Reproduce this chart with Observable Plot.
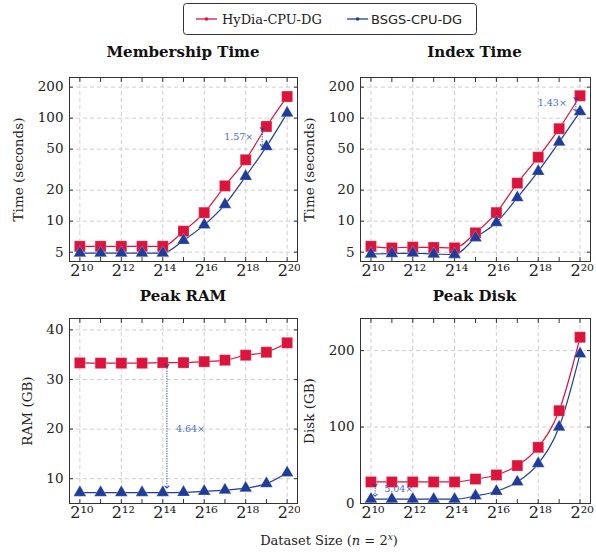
<!DOCTYPE html>
<html>
<head>
<meta charset="utf-8">
<script src="https://cdn.jsdelivr.net/npm/d3@7"></script>
<script src="https://cdn.jsdelivr.net/npm/@observablehq/plot@0.6"></script>
<style>
  html, body { margin: 0; padding: 0; background: #fff; }
  #wrap { position: relative; width: 596px; height: 552px; overflow: hidden; font-family: "DejaVu Serif", serif; }
  .panel { position: absolute; }
  #overlay { position: absolute; left: 0; top: 0; }
</style>
</head>
<body>
<div id="wrap"></div>
<script>
// ---------- data ----------
const exponents = [10, 11, 12, 13, 14, 15, 16, 17, 18, 19, 20];
const labelExponents = [10, 12, 14, 16, 18, 20];
const seriesNames = ["HyDia-CPU-DG", "BSGS-CPU-DG"];

const memHyDia = [5.7, 5.7, 5.7, 5.7, 5.7, 8.0, 12.1, 22, 39.4, 83, 162];
const memBSGS  = [4.9, 4.9, 4.9, 4.9, 4.9, 6.5, 9.2, 14.5, 27.2, 53, 112];
const idxHyDia = [5.7, 5.5, 5.6, 5.55, 5.5, 7.7, 12.1, 23.4, 41.8, 79, 165];
const idxBSGS  = [4.8, 4.85, 4.9, 4.8, 4.75, 6.9, 9.7, 16.9, 30.4, 58.5, 115.5];
const ramHyDia = [33.35, 33.3, 33.3, 33.3, 33.4, 33.4, 33.6, 33.9, 34.9, 35.5, 37.4];
const ramBSGS  = [7.2, 7.2, 7.2, 7.2, 7.2, 7.25, 7.45, 7.7, 8.1, 9.0, 11.2];
const diskHyDia = [28.2, 28.2, 28.2, 28.2, 28.2, 32, 37.3, 49.6, 73.5, 121.4, 217.5];
const diskBSGS  = [5.6, 5.6, 5.6, 5.6, 5.6, 9.9, 16, 28.2, 52.2, 100, 195.8];

const titles = ["Membership Time", "Index Time", "Peak RAM", "Peak Disk"];
const yLabels = ["Time (seconds)", "Time (seconds)", "RAM (GB)", "Disk (GB)"];
const timeTicks = [5, 10, 20, 50, 100, 200];
const ramTicks = [10, 20, 30, 40];
const diskTicks = [0, 100, 200];

// speed-up annotations (exponent, top value, bottom value, label, label value)
const annX = [18.8, 19.8, 14.2, 10.2];
const annTop = [79, 155, 32.8, 23.9];
const annBottom = [54, 119, 8.3, 10.8];
const annText = ["1.57×", "1.43×", "4.64×", "5.04×"];
const annTextY = [66, 139, 20, 18.7];
const annSide = ["left", "left", "right", "right"];

// ---------- style ----------
const RED = "#dc143c";
const BLUE = "#1f3c9a";
const ANN = "#4a6bd0";
const GRID = "#cfcfcf";
const SUP = {"0": "\u2070", "1": "\u00b9", "2": "\u00b2", "3": "\u00b3", "4": "\u2074", "5": "\u2075", "6": "\u2076", "7": "\u2077", "8": "\u2078", "9": "\u2079"};
const powLabel = e => "2" + String(e).split("").map(c => SUP[c]).join("");

function rowsOf(values) { return exponents.map((e, i) => ({e, v: values[i]})); }

function panel(k, hy, bs, yScale, yTicks, box) {
  const H = rowsOf(hy), B = rowsOf(bs);
  const side = annSide[k];
  const chart = Plot.plot({
    width: box.width, height: box.height,
    marginLeft: box.ml, marginRight: box.mr, marginTop: box.mt, marginBottom: box.mb,
    style: {fontFamily: "DejaVu Serif, serif", fontSize: "13px", color: "#222", background: "transparent"},
    x: {domain: [9.5, 20.5], axis: null},
    y: {...yScale, axis: null},
    marks: [
      Plot.ruleX(labelExponents, {x: d => d, stroke: GRID, strokeDasharray: "4,3"}),
      Plot.ruleY(yTicks, {y: d => d, stroke: GRID, strokeDasharray: "4,3"}),
      Plot.axisX(exponents, {anchor: "bottom", tickSize: -4, tickFormat: () => "", stroke: "#333", label: null}),
      Plot.axisX(exponents, {anchor: "top", tickSize: -4, tickFormat: () => "", stroke: "#333", label: null}),
      Plot.axisY(yTicks, {anchor: "left", tickSize: -4, tickFormat: () => "", stroke: "#333",
        label: yLabels[k], labelAnchor: "center", labelArrow: "none", labelOffset: box.lo, fontSize: 13.5}),
      Plot.axisY(yTicks, {anchor: "right", tickSize: -4, tickFormat: () => "", stroke: "#333", label: null}),
      Plot.text(yTicks, {y: d => d, text: d => String(d), frameAnchor: "left", textAnchor: "end", dx: -6, fontSize: 13.5, fill: "#222"}),
      Plot.text(labelExponents, {x: d => d, text: d => powLabel(d), frameAnchor: "bottom", lineAnchor: "top", dy: 3, dx: 2, fontSize: 16, fill: "#222"}),
      Plot.line(H, {x: "e", y: "v", stroke: RED, strokeWidth: 1.2, curve: "monotone-x"}),
      Plot.line(B, {x: "e", y: "v", stroke: BLUE, strokeWidth: 1.2, curve: "monotone-x"}),
      Plot.dot(H, {x: "e", y: "v", symbol: "square", r: 6.2, fill: RED, stroke: "#fff", strokeWidth: 0.4, strokeOpacity: 0.6}),
      Plot.dot(B, {x: "e", y: "v", symbol: "triangle", r: 4.7, fill: BLUE, stroke: "#fff", strokeWidth: 0.4, strokeOpacity: 0.6}),
      Plot.link([k], {x1: i => annX[i], x2: i => annX[i], y1: i => annTop[i], y2: i => annBottom[i],
        stroke: BLUE, strokeWidth: 1, strokeDasharray: "1.2,1.3", markerStart: "arrow", markerEnd: "arrow"}),
      Plot.text([k], {x: i => annX[i], y: i => annTextY[i], text: i => annText[i], fill: ANN, fontSize: 9.5,
        textAnchor: side === "left" ? "end" : "start", dx: side === "left" ? -9 : 9}),
      Plot.frame({stroke: "#333", strokeWidth: 1})
    ]
  });
  chart.classList.add("panel");
  chart.style.left = box.left + "px";
  chart.style.top = box.top + "px";
  return chart;
}

const wrap = document.getElementById("wrap");
const boxes = [
  {left: 0,   top: 60,  width: 300, height: 232, ml: 69, mr: 3, mt: 17, mb: 31, lo: 56},
  {left: 300, top: 60,  width: 296, height: 232, ml: 60, mr: 6, mt: 17, mb: 31, lo: 56},
  {left: 0,   top: 300, width: 300, height: 230, ml: 69, mr: 3, mt: 18, mb: 27, lo: 47},
  {left: 300, top: 300, width: 296, height: 230, ml: 60, mr: 6, mt: 18, mb: 27, lo: 56}
];
wrap.appendChild(panel(0, memHyDia, memBSGS, {type: "log", domain: [4.06, 248]}, timeTicks, boxes[0]));
wrap.appendChild(panel(1, idxHyDia, idxBSGS, {type: "log", domain: [4.06, 248]}, timeTicks, boxes[1]));
wrap.appendChild(panel(2, ramHyDia, ramBSGS, {type: "linear", domain: [5, 42.3]}, ramTicks, boxes[2]));
wrap.appendChild(panel(3, diskHyDia, diskBSGS, {type: "linear", domain: [0, 242]}, diskTicks, boxes[3]));

// ---------- titles, legend, x label ----------
const ov = d3.select(wrap).append("svg").attr("id", "overlay").attr("width", 596).attr("height", 552);
const titlePos = [[183, 57], [474.5, 57], [183, 301], [474.5, 301]];
titles.forEach((t, i) => {
  ov.append("text").attr("x", titlePos[i][0]).attr("y", titlePos[i][1]).attr("text-anchor", "middle")
    .attr("font-family", "DejaVu Serif, serif").attr("font-weight", "bold").attr("font-size", 15).attr("fill", "#111").text(t);
});
ov.append("rect").attr("x", 183.5).attr("y", 3.5).attr("width", 293).attr("height", 31).attr("rx", 3)
  .attr("fill", "#fff").attr("stroke", "#333").attr("stroke-width", 1);
const legendItems = [
  {name: seriesNames[0], color: RED, x0: 196, tx: 222, font: "DejaVu Serif, serif"},
  {name: seriesNames[1], color: BLUE, x0: 347, tx: 371, font: "DejaVu Sans, sans-serif"}
];
legendItems.forEach(it => {
  ov.append("line").attr("x1", it.x0).attr("x2", it.x0 + 21).attr("y1", 19).attr("y2", 19).attr("stroke", it.color).attr("stroke-width", 1.3);
  ov.append("circle").attr("cx", it.x0 + 10.5).attr("cy", 19).attr("r", 1.8).attr("fill", it.color);
  ov.append("text").attr("x", it.tx).attr("y", 23.5).attr("font-family", it.font).attr("font-size", 13).attr("fill", "#222").text(it.name);
});
const xl = ov.append("text").attr("x", 329).attr("y", 545).attr("text-anchor", "middle")
  .attr("font-family", "DejaVu Serif, serif").attr("font-size", 13).attr("fill", "#222");
xl.append("tspan").text("Dataset Size (");
xl.append("tspan").attr("font-style", "italic").text("n");
xl.append("tspan").text(" = 2");
xl.append("tspan").attr("font-style", "italic").attr("font-size", 9).attr("dy", -5).text("x");
xl.append("tspan").attr("dy", 5).text(")");
</script>
</body>
</html>
